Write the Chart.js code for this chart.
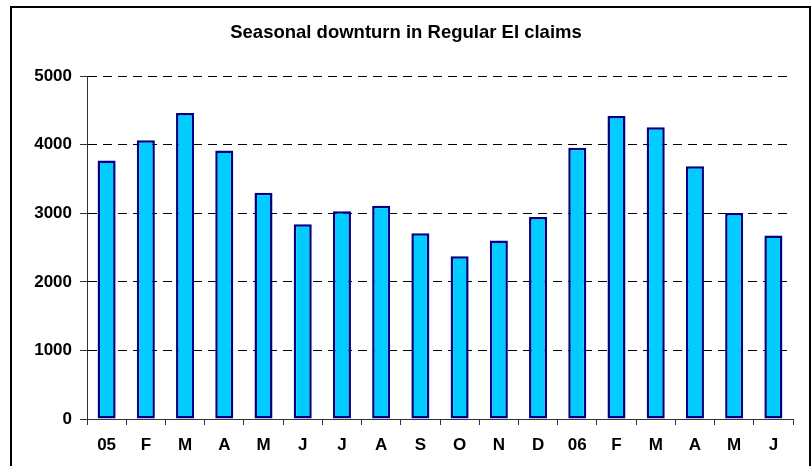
<!DOCTYPE html>
<meta charset="utf-8">
<title>Seasonal downturn in Regular EI claims</title>
<script src="https://cdn.jsdelivr.net/npm/chart.js@4/dist/chart.umd.min.js"></script>
<style>
body {
	margin: 0;
	background: #fff;
}
.wrap {
	width: 812px;
	height: 466px;
}
</style>

<div class="wrap"><canvas id="c" width="812" height="466"></canvas></div>

<script>
const months = ['05', 'F', 'M', 'A', 'M', 'J', 'J', 'A', 'S', 'O', 'N', 'D', '06', 'F', 'M', 'A', 'M', 'J'];
const claims = [3770, 4065, 4465, 3915, 3300, 2840, 3030, 3110, 2710, 2375, 2605, 2945, 3955, 4420, 4255, 3685, 3005, 2675];
const yTicks = [0, 1000, 2000, 3000, 4000, 5000];

const font = "'Liberation Sans', Arial, sans-serif";

// box round the whole chart, the bottom edge runs off the picture
const frame = {
	id: 'frame',
	afterDraw(chart) {
		const ctx = chart.ctx;
		ctx.save();
		ctx.strokeStyle = '#000';
		ctx.lineWidth = 2;
		ctx.strokeRect(11, 7, 799, 500);
		ctx.restore();
	}
};

new Chart(document.getElementById('c'), {
	type: 'bar',
	data: {
		labels: months,
		datasets: [{
			label: 'Regular EI claims',
			data: claims,
			backgroundColor: '#00ccff',
			borderColor: '#000080',
			borderWidth: 2.5,
			borderSkipped: false,
			barPercentage: 0.46,
			categoryPercentage: 1,
		}]
	},
	options: {
		responsive: false,
		animation: false,
		layout: {
			padding: 0
		},
		plugins: {
			legend: {display: false},
			tooltip: {enabled: false},
			title: {
				display: true,
				text: 'Seasonal downturn in Regular EI claims',
				color: '#000',
				font: {family: font, size: 18.5, weight: 'bold'},
				padding: {top: 22, bottom: 32},
			},
		},
		scales: {
			x: {
				offset: true,
				border: {color: '#333', width: 1},
				grid: {
					offset: true,
					drawOnChartArea: false,
					tickLength: 6,
					tickColor: '#333',
				},
				ticks: {
					color: '#000',
					padding: 10,
					font: {family: font, size: 17, weight: 'bold'},
					maxRotation: 0,
					autoSkip: false,
				},
				afterFit: s => { s.height = 47; },
			},
			y: {
				min: 0,
				max: 5000,
				afterBuildTicks: s => { s.ticks = yTicks.map(v => ({value: v})); },
				border: {color: '#333', width: 1, dash: [9, 6]},
				grid: {
					color: '#000',
					tickLength: 7,
					tickColor: '#333',
					tickBorderDash: [],
				},
				ticks: {
					color: '#000',
					padding: 8,
					font: {family: font, size: 17, weight: 'bold'},
					callback: v => String(v),
				},
				afterFit: s => { s.width = 87; },
			},
			// empty axis, only keeps a gap on the right so the title stays centred
			gap: {
				position: 'right',
				min: 0,
				max: 5000,
				border: {display: false},
				grid: {display: false},
				ticks: {display: false},
				afterFit: s => { s.width = 19; },
			}
		}
	},
	plugins: [frame]
});
</script>
